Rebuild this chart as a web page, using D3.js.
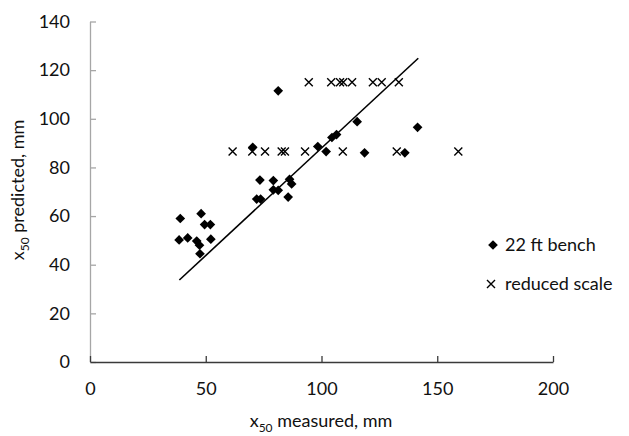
<!DOCTYPE html>
<html><head><meta charset="utf-8">
<script src="https://cdn.jsdelivr.net/npm/d3@7"></script>
<style>
html,body{margin:0;padding:0;background:#fff;}
svg{display:block;font-family:Lato,"Open Sans",sans-serif;}
</style></head>
<body>
<svg id="chart" width="629" height="436"></svg>
<script>
// 22 ft bench (x50 measured, x50 predicted)
const benchX = [39, 48, 49.5, 52, 38.5, 42.2, 46.1, 47.3, 47.5, 52.2, 81.3, 115.4, 141.5, 70.3, 98.4, 104.5, 106.5, 102, 118.6, 136, 73.4, 79.2, 86.2, 87.1, 79.2, 81.3, 72, 73.7, 85.6];
const benchY = [59, 61, 56.5, 56.5, 50.2, 51, 49.7, 48, 44.5, 50.5, 111.5, 98.8, 96.5, 88.3, 88.6, 92.3, 93.5, 86.5, 86, 86, 74.8, 74.6, 75.1, 73.2, 70.8, 70.6, 67, 67, 67.8];
// reduced scale
const reducedX = [61.6, 70.1, 75.6, 82.8, 84.2, 92.9, 109.2, 132.5, 159.1, 94.5, 104.2, 108, 109.4, 113.2, 122.2, 126, 133.4];
const reducedY = [86.5, 86.5, 86.5, 86.5, 86.5, 86.5, 86.5, 86.5, 86.5, 115, 115, 115, 115, 115, 115, 115, 115];
// fitted line end points
const lineX = [38.6, 141.8];
const lineY = [33.7, 124.9];
const xTicks = [0, 50, 100, 150, 200];
const yTicks = [0, 20, 40, 60, 80, 100, 120, 140];
const seriesNames = ["22 ft bench", "reduced scale"];

const svg = d3.select("#chart");
const x = d3.scaleLinear().domain([0, 200]).range([90, 553]);
const y = d3.scaleLinear().domain([0, 140]).range([362, 21.5]);

// axes
const gx = svg.append("g").attr("transform", `translate(0,${y(0)})`)
  .call(d3.axisBottom(x).tickValues(xTicks).tickSizeInner(-6).tickSizeOuter(0).tickPadding(20));
gx.select(".domain").attr("stroke", "#3a3a3a").attr("stroke-width", 1.3);
gx.selectAll(".tick line").attr("stroke", "#3a3a3a").attr("stroke-width", 1.3);
gx.selectAll(".tick text").attr("font-size", 18).attr("fill", "#111").attr("font-family", "Lato, sans-serif");

const gy = svg.append("g").attr("transform", `translate(${x(0)},0)`)
  .call(d3.axisLeft(y).tickValues(yTicks).tickSizeInner(-6).tickSizeOuter(0).tickPadding(20));
gy.select(".domain").attr("stroke", "#a6a6a6").attr("stroke-width", 1.3);
gy.selectAll(".tick line").attr("stroke", "#a6a6a6").attr("stroke-width", 1.3);
gy.selectAll(".tick text").attr("font-size", 18).attr("fill", "#111").attr("font-family", "Lato, sans-serif");
// redraw x domain on top of y domain at corner
gx.raise();

// fitted line
svg.append("line")
  .attr("x1", x(lineX[0])).attr("y1", y(lineY[0]))
  .attr("x2", x(lineX[1])).attr("y2", y(lineY[1]))
  .attr("stroke", "#000").attr("stroke-width", 1.6);

const diamond = d3.symbol().type(d3.symbolDiamond2).size(60);
const crossPath = "M-4,-4L4,4M-4,4L4,-4";

// bench diamonds
svg.append("g").selectAll("path").data(benchX.map((d, i) => [d, benchY[i]]))
  .join("path")
  .attr("transform", d => `translate(${x(d[0])},${y(d[1])})`)
  .attr("d", diamond).attr("fill", "#000");

// reduced scale crosses
svg.append("g").selectAll("path").data(reducedX.map((d, i) => [d, reducedY[i]]))
  .join("path")
  .attr("transform", d => `translate(${x(d[0])},${y(d[1])})`)
  .attr("d", crossPath).attr("stroke", "#000").attr("stroke-width", 1.4).attr("fill", "none");

// legend
const leg = svg.append("g");
leg.append("path").attr("transform", "translate(493,245)").attr("d", diamond).attr("fill", "#000");
leg.append("text").attr("x", 505).attr("y", 251).attr("font-size", 18).attr("fill", "#111").text(seriesNames[0]);
leg.append("path").attr("transform", "translate(491,284)").attr("d", crossPath)
  .attr("stroke", "#000").attr("stroke-width", 1.4).attr("fill", "none");
leg.append("text").attr("x", 505).attr("y", 290).attr("font-size", 18).attr("fill", "#111").text(seriesNames[1]);

// axis titles
const xt = svg.append("text").attr("x", 321).attr("y", 427).attr("text-anchor", "middle")
  .attr("font-size", 18).attr("fill", "#111");
xt.append("tspan").text("x");
xt.append("tspan").attr("font-size", 12).attr("dy", 5).text("50");
xt.append("tspan").attr("dy", -5).text(" measured, mm");

const yt = svg.append("text").attr("transform", "translate(24,190) rotate(-90)").attr("text-anchor", "middle")
  .attr("font-size", 18).attr("fill", "#111");
yt.append("tspan").text("x");
yt.append("tspan").attr("font-size", 12).attr("dy", 5).text("50");
yt.append("tspan").attr("dy", -5).text(" predicted, mm");
</script>
</body></html>
